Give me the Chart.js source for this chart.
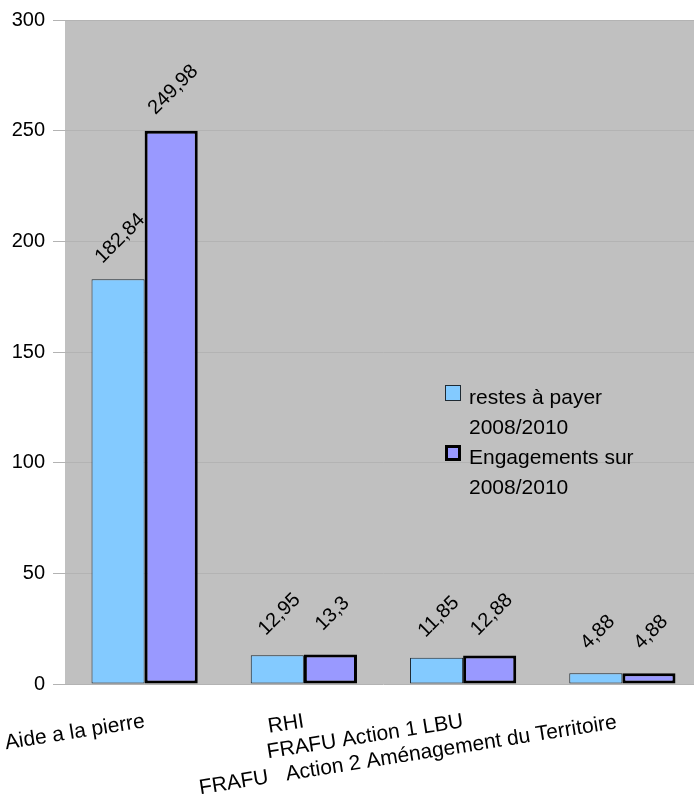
<!DOCTYPE html>
<html>
<head>
<meta charset="utf-8">
<script src="https://cdn.jsdelivr.net/npm/chart.js@4.4.1/dist/chart.umd.min.js"></script>
<style>
html, body { margin: 0; padding: 0; overflow: hidden; background: #fff; }
canvas { display: block; }
</style>
</head>
<body>
<canvas id="chart" width="702" height="807"></canvas>
<script>
// data
const categories = ['Aide a la pierre', 'RHI', 'FRAFU Action 1 LBU', 'FRAFU   Action 2 Aménagement du Territoire '];
const restesAPayer = [182.84, 12.95, 11.85, 4.88];
const engagements = [249.98, 13.3, 12.88, 4.88];
const seriesNames = ['restes à payer\n2008/2010', 'Engagements sur\n2008/2010'];
const yTicks = [0, 50, 100, 150, 200, 250, 300];

const FONT = '"Liberation Sans", Arial, sans-serif';
Chart.defaults.font.family = FONT;
Chart.defaults.color = '#000';

// gray plot background
const plotBackground = {
    id: 'plotBackground',
    beforeDraw(chart) {
        const { ctx, chartArea: a } = chart;
        ctx.save();
        ctx.fillStyle = '#c0c0c0';
        ctx.fillRect(a.left, a.top, a.right - a.left, a.bottom - a.top);
        ctx.restore();
    }
};

// rotated value labels above bars
const valueLabels = {
    id: 'valueLabels',
    afterDatasetsDraw(chart) {
        const ctx = chart.ctx;
        chart.data.datasets.forEach((ds, i) => {
            chart.getDatasetMeta(i).data.forEach((bar, j) => {
                const txt = String(ds.data[j]).replace('.', ',');
                ctx.save();
                ctx.translate(bar.x + 6, bar.y - 37);
                ctx.rotate(-Math.PI / 4);
                ctx.font = '20px ' + FONT;
                ctx.fillStyle = '#000';
                ctx.textAlign = 'center';
                ctx.textBaseline = 'alphabetic';
                ctx.fillText(txt, 0, 0);
                ctx.restore();
            });
        });
    }
};

// legend inside the plot area
const innerLegend = {
    id: 'innerLegend',
    afterDraw(chart) {
        const ctx = chart.ctx;
        const tops = [385, 445];
        chart.data.datasets.forEach((ds, i) => {
            const y = tops[i];
            ctx.save();
            ctx.fillStyle = ds.backgroundColor;
            ctx.fillRect(445, y, 16, 16);
            ctx.strokeStyle = ds.borderColor;
            ctx.lineWidth = ds.borderWidth;
            ctx.strokeRect(445 + ds.borderWidth / 2, y + ds.borderWidth / 2, 16 - ds.borderWidth, 16 - ds.borderWidth);
            ctx.fillStyle = '#000';
            ctx.font = '21px ' + FONT;
            ctx.textBaseline = 'alphabetic';
            ds.label.split('\n').forEach((line, k) => {
                ctx.fillText(line, 469, y + 19 + k * 29.5);
            });
            ctx.restore();
        });
    }
};

new Chart(document.getElementById('chart'), {
    type: 'bar',
    plugins: [plotBackground, valueLabels, innerLegend],
    data: {
        labels: categories,
        datasets: [
            {
                label: seriesNames[0],
                data: restesAPayer,
                backgroundColor: '#83caff',
                borderColor: '#1e2a33',
                borderWidth: 1,
                borderSkipped: false,
            },
            {
                label: seriesNames[1],
                data: engagements,
                backgroundColor: '#9999ff',
                borderColor: '#000',
                borderWidth: 3,
                borderSkipped: false,
            }
        ]
    },
    options: {
        responsive: false,
        animation: false,
        layout: {
            padding: { top: 18, left: 0, right: 0, bottom: 0 }
        },
        datasets: {
            bar: {
                categoryPercentage: 0.667,
                barPercentage: 1.0,
            }
        },
        plugins: {
            legend: { display: false },
            tooltip: { enabled: false },
        },
        scales: {
            x: {
                grid: { display: false, drawTicks: false },
                border: { display: false },
                ticks: {
                    autoSkip: false,
                    minRotation: 9,
                    maxRotation: 9,
                    padding: 25,
                    color: '#000',
                    font: { size: 21 },
                },
                afterFit: function(scale) {
                    scale.paddingLeft = 0;
                    scale.paddingRight = 0;
                    scale.height = 123;
                }
            },
            y: {
                min: yTicks[0],
                max: yTicks[yTicks.length - 1],
                grid: {
                    color: '#b3b3b3',
                    lineWidth: 1,
                    tickLength: 12,
                    drawTicks: true,
                },
                border: { display: false },
                ticks: {
                    stepSize: yTicks[1] - yTicks[0],
                    padding: 8,
                    color: '#000',
                    font: { size: 20 },
                },
                afterFit: function(scale) {
                    scale.width = 65;
                }
            }
        }
    }
});
</script>
</body>
</html>
